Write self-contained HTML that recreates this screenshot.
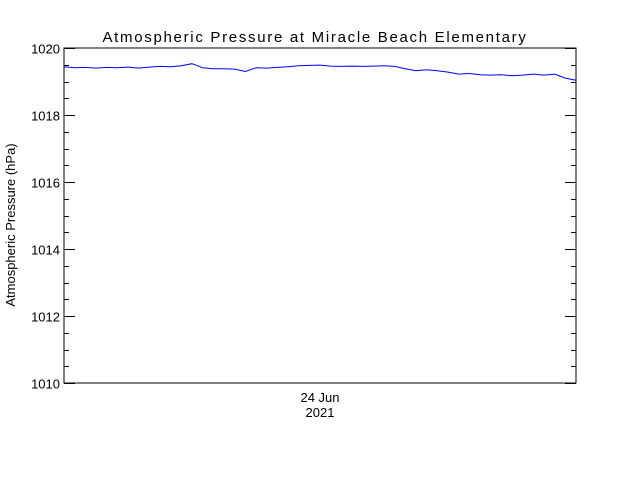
<!DOCTYPE html>
<html><head><meta charset="utf-8"><style>
body{margin:0;background:#fff;}
svg{display:block;font-family:"Liberation Sans",sans-serif;}
</style></head><body>
<svg id="chart" width="640" height="480" viewBox="0 0 640 480">
<rect width="640" height="480" fill="#fff"/>
<text x="315" y="42" font-size="15" letter-spacing="1.7" text-anchor="middle" fill="#000">Atmospheric Pressure at Miracle Beach Elementary</text>
<text transform="translate(15,225) rotate(-90)" font-size="13" text-anchor="middle" fill="#000">Atmospheric Pressure (hPa)</text>
<text x="320" y="402" font-size="13" text-anchor="middle">24 Jun</text>
<text x="320" y="417" font-size="13" text-anchor="middle">2021</text>
<g id="ticks"></g>
<polyline id="series" fill="none" stroke="#0000ff" stroke-width="1"/>
<rect x="64" y="48" width="512" height="335" fill="none" stroke="#000" stroke-width="1"/>
</svg>
<script>
const hours = [-12,-11.5,-11,-10.5,-10,-9.5,-9,-8.5,-8,-7.5,-7,-6.5,-6,-5.5,-5,-4.5,-4,-3.5,-3,-2.5,-2,-1.5,-1,-0.5,0,0.5,1,1.5,2,2.5,3,3.5,4,4.5,5,5.5,6,6.5,7,7.5,8,8.5,9,9.5,10,10.5,11,11.5,12];
const pressure = [1019.44,1019.41,1019.42,1019.40,1019.42,1019.41,1019.43,1019.40,1019.43,1019.45,1019.44,1019.47,1019.53,1019.41,1019.38,1019.38,1019.37,1019.30,1019.41,1019.40,1019.42,1019.44,1019.47,1019.48,1019.49,1019.46,1019.45,1019.46,1019.45,1019.46,1019.47,1019.45,1019.38,1019.32,1019.35,1019.32,1019.28,1019.22,1019.24,1019.20,1019.19,1019.20,1019.17,1019.19,1019.22,1019.19,1019.22,1019.10,1019.04];
const yTicks = [1010,1012,1014,1016,1018,1020];
const yMinor = [1010.5,1011,1011.5,1012.5,1013,1013.5,1014.5,1015,1015.5,1016.5,1017,1017.5,1018.5,1019,1019.5];
const X0=64,X1=576,Y0=383,Y1=48;
const xs=h=>X0+(h+12)/24*(X1-X0);
const ys=v=>Y0-(v-1010)/10*(Y0-Y1);
const NS="http://www.w3.org/2000/svg";
const g=document.getElementById('ticks');
function line(x1,y1,x2,y2,name){const l=document.createElementNS(NS,'line');
l.setAttribute('x1',x1);l.setAttribute('y1',y1);l.setAttribute('x2',x2);l.setAttribute('y2',y2);l.setAttribute('stroke','#000');


g.appendChild(l);}
yTicks.forEach(v=>{const y=Math.round(ys(v))+0.5;
line(X0,y,X0+11,y,'y-major-tick');line(X1-11,y,X1,y,'y-major-tick-right');
const t=document.createElementNS(NS,'text');t.setAttribute('x',X0-4);t.setAttribute('y',y+5);t.setAttribute('font-size','13');t.setAttribute('text-anchor','end');t.textContent=v;


g.appendChild(t);});
yMinor.forEach(v=>{const y=Math.round(ys(v))+0.5;line(X0,y,X0+5,y,'y-minor-tick');line(X1-5,y,X1,y,'y-minor-tick-right');});
document.getElementById('series').setAttribute('points',hours.map((h,i)=>xs(h).toFixed(1)+','+ys(pressure[i]).toFixed(1)).join(' '));
</script>
</body></html>
